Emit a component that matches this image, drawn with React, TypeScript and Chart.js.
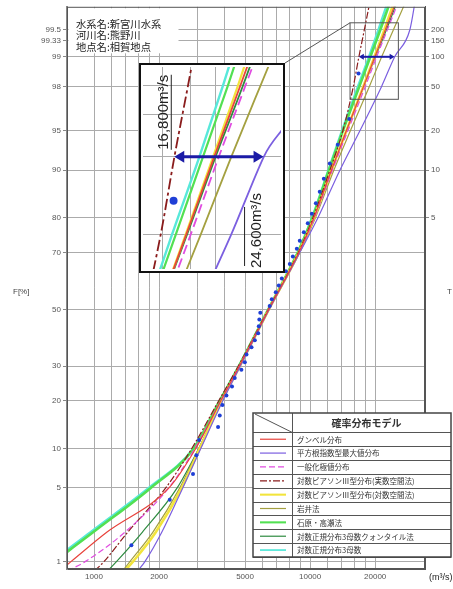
import React, { useEffect, useRef } from "react";
import { Chart, registerables } from "chart.js";

Chart.register(...registerables);

// ---------------- data ----------------
const F_LEVELS = [0.8, 1, 2, 5, 10, 20, 30, 50, 70, 80, 90, 95, 98, 99, 99.5, 99.8];

const Q_GUMBEL = [694, 780, 1145, 2222, 2957, 3861, 4700, 6439, 8866, 10400, 12540, 14710, 17670, 19930, 22290, 25470];
const Q_SQRTEXP = [1595, 1717, 2058, 2574, 3119, 3944, 4752, 6474, 8960, 10855, 13730, 16990, 21410, 24620, 28940, 30850];
const Q_GEV = [754, 906, 1387, 2217, 2926, 3861, 4700, 6439, 8913, 10460, 12670, 14950, 18010, 20320, 22780, 26160];
const Q_LP3_REAL = [1007, 1109, 1432, 2147, 2834, 3779, 4651, 6405, 8819, 10290, 12340, 14170, 15850, 16810, 17820, 19100];
const Q_LP3_LOG = [1387, 1511, 1930, 2547, 3086, 3902, 4726, 6439, 8866, 10400, 12540, 14710, 17630, 19830, 22060, 24940];
const Q_IWAI = [1358, 1463, 1870, 2494, 3053, 3902, 4726, 6474, 8960, 10570, 12870, 15350, 18800, 21430, 24290, 28330];
const Q_ISHIHARA = [600, 660, 990, 1830, 2895, 3819, 4676, 6405, 8772, 10240, 12210, 14170, 16900, 18990, 21130, 23890];
const Q_LN3_QUANT = [1157, 1267, 1672, 2425, 3053, 3902, 4726, 6439, 8866, 10400, 12540, 14710, 17730, 20040, 22540, 25740];
const Q_LN3 = [580, 640, 960, 1790, 2880, 3819, 4676, 6405, 8772, 10180, 12140, 14020, 16630, 18700, 20690, 23270];

const SERIES_NAMES = [
  "グンベル分布",
  "平方根指数型最大値分布",
  "一般化極値分布",
  "対数ピアソンⅢ型分布(実数空間法)",
  "対数ピアソンⅢ型分布(対数空間法)",
  "岩井法",
  "石原・高瀬法",
  "対数正規分布3母数クォンタイル法",
  "対数正規分布3母数",
];

const POINT_F = [1.49, 3.98, 6.47, 8.96, 11.44, 13.93, 16.42, 18.91, 21.39, 23.88, 26.37, 28.86, 31.34, 33.83, 36.32, 38.81, 41.29, 43.78, 46.27, 48.76, 51.24, 53.73, 56.22, 58.71, 61.19, 63.68, 66.17, 68.66, 71.14, 73.63, 76.12, 78.61, 81.09, 83.58, 86.07, 88.56, 91.04, 93.53, 96.02, 98.51];
const POINT_Q = [1489, 2241, 2871, 2976, 3063, 3750, 3818, 3929, 4100, 4350, 4479, 4808, 4987, 5077, 5355, 5547, 5748, 5787, 5820, 5880, 6500, 6647, 6934, 7161, 7396, 7718, 8053, 8318, 8677, 8955, 9349, 9753, 10180, 10630, 11080, 11570, 12330, 13420, 15170, 16750];

const X_GRID = [1000, 1200, 1400, 1600, 1800, 2000, 3000, 4000, 5000, 6000, 7000, 8000, 9000, 10000, 12000, 14000, 16000, 18000, 20000];
const X_LABELS = [1000, 2000, 5000, 10000, 20000];
const X_RANGE = [750, 34000];
const F_RANGE = [0.838, 99.734];
const F_TICKS = [1, 5, 10, 20, 30, 50, 70, 80, 90, 95, 98, 99, 99.33, 99.5];
const F_TICK_LABELS = ["1", "5", "10", "20", "30", "50", "70", "80", "90", "95", "98", "99", "99.33", "99.5"];
const T_TICKS = [5, 10, 20, 50, 100, 150, 200];

const ARROW_Q = [16800, 24600];
const ARROW_F = 99;
const ARROW_LABELS = ["16,800m³/s", "24,600m³/s"];
const BOX_Q = [15300, 25600];
const BOX_F = [97.35, 99.585];
const INSET_Q = [14700, 26500];
const INSET_GRID_Q = [16000, 18000, 20000];
const INSET_GRID_F = [98, 99, 99.33, 99.5];

const INFO_LINES = ["水系名:新宮川水系", "河川名:熊野川", "地点名:相賀地点"];
const LEGEND_TITLE = "確率分布モデル";

// ---------------- styles ----------------
const STYLES = [
  { color: "#e8433c", width: 1.2, inset: 1.8, dash: [] as number[] },
  { color: "#7b5fe0", width: 1.2, inset: 1.8, dash: [] },
  { color: "#e04ce0", width: 1.2, inset: 1.8, dash: [6, 3] },
  { color: "#8a1c1c", width: 1.2, inset: 1.8, dash: [7, 2, 2, 2] },
  { color: "#f2e43c", width: 2.6, inset: 2.2, dash: [] },
  { color: "#a4a040", width: 1.2, inset: 1.8, dash: [] },
  { color: "#52e052", width: 2.6, inset: 2.2, dash: [] },
  { color: "#2e8b40", width: 1.2, inset: 1.8, dash: [] },
  { color: "#58e8da", width: 2.2, inset: 2.4, dash: [] },
];
const SERIES_Q = [Q_GUMBEL, Q_SQRTEXP, Q_GEV, Q_LP3_REAL, Q_LP3_LOG, Q_IWAI, Q_ISHIHARA, Q_LN3_QUANT, Q_LN3];
const INSET = { left: 139, top: 63, width: 146, height: 210 };
const FONT_LAT = '"Liberation Sans", Arial, sans-serif';
const FONT_JP = '"Noto Sans CJK JP", sans-serif';
const GRID = "#ababab";

// probit (inverse standard normal) – the probability-paper axis transform
function probit(p: number): number {
  const a = [-3.969683028665376e1, 2.209460984245205e2, -2.759285104469687e2, 1.38357751867269e2, -3.066479806614716e1, 2.506628277459239];
  const b = [-5.447609879822406e1, 1.615858368580409e2, -1.556989798598866e2, 6.680131188771972e1, -1.328068155288572e1];
  const c = [-7.784894002430293e-3, -3.223964580411365e-1, -2.400758277161838, -2.549732539343734, 4.374664141464968, 2.938163982698783];
  const d = [7.784695709041462e-3, 3.224671290700398e-1, 2.445134137142996, 3.754408661907416];
  const pl = 0.02425;
  if (p < pl) {
    const q = Math.sqrt(-2 * Math.log(p));
    return (((((c[0] * q + c[1]) * q + c[2]) * q + c[3]) * q + c[4]) * q + c[5]) / ((((d[0] * q + d[1]) * q + d[2]) * q + d[3]) * q + 1);
  }
  if (p <= 1 - pl) {
    const q = p - 0.5;
    const r = q * q;
    return ((((((a[0] * r + a[1]) * r + a[2]) * r + a[3]) * r + a[4]) * r + a[5]) * q) / (((((b[0] * r + b[1]) * r + b[2]) * r + b[3]) * r + b[4]) * r + 1);
  }
  const q = Math.sqrt(-2 * Math.log(1 - p));
  return -(((((c[0] * q + c[1]) * q + c[2]) * q + c[3]) * q + c[4]) * q + c[5]) / ((((d[0] * q + d[1]) * q + d[2]) * q + d[3]) * q + 1);
}
const zf = (f: number) => probit(f / 100);

function buildDatasets(isInset: boolean, pr: number) {
  const k = isInset ? 1.6 : 1;
  const lines = SERIES_Q.map((qs, si) => ({
    type: "line" as const,
    label: SERIES_NAMES[si],
    data: F_LEVELS.map((f, i) => ({ x: qs[i], y: zf(f) })),
    borderColor: STYLES[si].color,
    borderWidth: isInset ? STYLES[si].inset : STYLES[si].width,
    borderDash: STYLES[si].dash.map((v) => v * k),
    pointRadius: 0,
    cubicInterpolationMode: "monotone" as const,
    fill: false,
    order: 2,
  }));
  const pts = {
    type: "line" as const,
    label: "実績",
    data: POINT_F.map((f, i) => ({ x: POINT_Q[i], y: zf(f) })),
    showLine: false,
    pointRadius: pr,
    pointBackgroundColor: "#1f3fd6",
    pointBorderWidth: 0,
    borderColor: "#1f3fd6",
    order: 1,
  };
  return [...lines, pts];
}

function drawArrow(ctx: CanvasRenderingContext2D, x1: number, x2: number, y: number, lw: number, hl: number, hw: number, color: string) {
  ctx.save();
  ctx.strokeStyle = color;
  ctx.fillStyle = color;
  ctx.lineWidth = lw;
  ctx.beginPath();
  ctx.moveTo(x1 + hl * 0.8, y);
  ctx.lineTo(x2 - hl * 0.8, y);
  ctx.stroke();
  ctx.beginPath();
  ctx.moveTo(x1, y);
  ctx.lineTo(x1 + hl, y - hw);
  ctx.lineTo(x1 + hl, y + hw);
  ctx.closePath();
  ctx.fill();
  ctx.beginPath();
  ctx.moveTo(x2, y);
  ctx.lineTo(x2 - hl, y - hw);
  ctx.lineTo(x2 - hl, y + hw);
  ctx.closePath();
  ctx.fill();
  ctx.restore();
}

const mainDecor = {
  id: "mainDecor",
  afterDraw(chart: any) {
    const { ctx, chartArea: a, scales } = chart;
    const xs = scales.x;
    const ys = scales.y;
    ctx.save();
    // frame
    ctx.strokeStyle = "#555";
    ctx.lineWidth = 1;
    ctx.strokeRect(a.left + 0.5, a.top + 0.5, a.right - a.left - 1, a.bottom - a.top - 1);

    // info box
    ctx.fillStyle = "#fff";
    ctx.fillRect(a.left + 1.5, a.top + 1.5, 110, 45);
    ctx.fillStyle = "#222";
    ctx.font = `10.3px ${FONT_JP}`;
    ctx.textBaseline = "middle";
    ctx.textAlign = "left";
    INFO_LINES.forEach((t, i) => ctx.fillText(t, a.left + 9, a.top + 17 + i * 11.5));

    // zoom box
    const bx1 = xs.getPixelForValue(BOX_Q[0]);
    const bx2 = xs.getPixelForValue(BOX_Q[1]);
    const by1 = ys.getPixelForValue(zf(BOX_F[1]));
    const by2 = ys.getPixelForValue(zf(BOX_F[0]));
    ctx.strokeStyle = "#555";
    ctx.lineWidth = 1;
    ctx.strokeRect(bx1, by1, bx2 - bx1, by2 - by1);
    ctx.beginPath();
    ctx.moveTo(INSET.left + INSET.width, INSET.top);
    ctx.lineTo(bx1, by1);
    ctx.stroke();

    // arrow in main plot
    const ay = ys.getPixelForValue(zf(ARROW_F));
    drawArrow(ctx, xs.getPixelForValue(ARROW_Q[0]), xs.getPixelForValue(ARROW_Q[1]), ay, 2, 5, 3, "#1b1ba6");

    // legend table
    const L = { x1: 253, x2: 451, y1: 413, y2: 557, head: 19.3, col: 292 };
    ctx.fillStyle = "#fff";
    ctx.fillRect(L.x1, L.y1, L.x2 - L.x1, L.y2 - L.y1);
    const rowH = (L.y2 - L.y1 - L.head) / SERIES_NAMES.length;
    ctx.strokeStyle = "#555";
    ctx.lineWidth = 1;
    for (let i = 0; i <= SERIES_NAMES.length; i++) {
      const y = Math.round(L.y1 + L.head + i * rowH) + 0.5;
      ctx.beginPath();
      ctx.moveTo(L.x1, y);
      ctx.lineTo(L.x2, y);
      ctx.stroke();
    }
    ctx.beginPath();
    ctx.moveTo(L.col + 0.5, L.y1);
    ctx.lineTo(L.col + 0.5, L.y2);
    ctx.stroke();
    ctx.beginPath();
    ctx.moveTo(L.x1 + 2, L.y1 + 1);
    ctx.lineTo(L.col, L.y1 + L.head);
    ctx.stroke();
    ctx.lineWidth = 1.5;
    ctx.strokeStyle = "#444";
    ctx.strokeRect(L.x1, L.y1, L.x2 - L.x1, L.y2 - L.y1);
    ctx.fillStyle = "#333";
    ctx.font = `bold 10px ${FONT_JP}`;
    ctx.textAlign = "center";
    ctx.fillText(LEGEND_TITLE, (L.col + L.x2) / 2 - 5, L.y1 + L.head / 2 + 0.5);
    ctx.textAlign = "left";
    ctx.font = `7.5px ${FONT_JP}`;
    SERIES_NAMES.forEach((n, i) => {
      const cy = L.y1 + L.head + (i + 0.5) * rowH;
      const st = STYLES[i];
      ctx.save();
      ctx.strokeStyle = st.color;
      ctx.lineWidth = Math.max(1.2, st.width * 0.8);
      ctx.setLineDash(st.dash);
      ctx.beginPath();
      ctx.moveTo(L.x1 + 7, cy);
      ctx.lineTo(L.col - 6, cy);
      ctx.stroke();
      ctx.restore();
      ctx.fillStyle = "#333";
      ctx.fillText(n, L.col + 5, cy + 0.5);
    });

    // axis titles
    ctx.fillStyle = "#444";
    ctx.font = `8px ${FONT_LAT}`;
    ctx.textAlign = "left";
    ctx.fillText("F[%]", 13, 292);
    ctx.fillText("T", 447, 292);
    ctx.fillStyle = "#222";
    ctx.font = `9px ${FONT_LAT}`;
    ctx.fillText("(m³/s)", 429, 578);
    ctx.restore();
  },
};

const insetDecor = {
  id: "insetDecor",
  afterDraw(chart: any) {
    const { ctx, scales, width, height } = chart;
    const xs = scales.x;
    const ys = scales.y;
    const ay = ys.getPixelForValue(zf(ARROW_F));
    const x1 = xs.getPixelForValue(ARROW_Q[0]);
    const x2 = xs.getPixelForValue(ARROW_Q[1]);
    drawArrow(ctx, x1, x2, ay, 3, 10, 6, "#1b1ba6");
    ctx.save();
    ctx.fillStyle = "#222";
    ctx.strokeStyle = "#222";
    ctx.lineWidth = 1;
    ctx.font = `15px ${FONT_LAT}`;
    ctx.textAlign = "left";
    ctx.textBaseline = "alphabetic";
    // low label
    ctx.save();
    ctx.translate(x1 - 6, ay - 7);
    ctx.rotate(-Math.PI / 2);
    ctx.fillText(ARROW_LABELS[0], 0, 0);
    const w0 = ctx.measureText(ARROW_LABELS[0]).width;
    ctx.beginPath();
    ctx.moveTo(0, 3);
    ctx.lineTo(w0, 3);
    ctx.stroke();
    ctx.restore();
    // high label
    ctx.save();
    ctx.translate(x2 - 3, height - 5);
    ctx.rotate(-Math.PI / 2);
    ctx.fillText(ARROW_LABELS[1], 0, 0);
    const w1 = ctx.measureText(ARROW_LABELS[1]).width;
    ctx.beginPath();
    ctx.moveTo(2, -16);
    ctx.lineTo(w1 - 14, -16);
    ctx.stroke();
    ctx.restore();
    // border
    ctx.strokeStyle = "#111";
    ctx.lineWidth = 2;
    ctx.strokeRect(1, 1, width - 2, height - 2);
    ctx.restore();
  },
};

export default function App() {
  const mainRef = useRef<HTMLCanvasElement>(null);
  const insetRef = useRef<HTMLCanvasElement>(null);

  useEffect(() => {
    const tickFont = { size: 8, family: FONT_LAT };
    const main = new Chart(mainRef.current as HTMLCanvasElement, {
      type: "line",
      data: { datasets: buildDatasets(false, 2) as any },
      options: {
        animation: false,
        responsive: false,
        devicePixelRatio: 1,
        layout: { padding: { top: 6, left: 0, right: 0, bottom: 0 } },
        plugins: { legend: { display: false }, tooltip: { enabled: false } },
        scales: {
          x: {
            type: "logarithmic",
            min: X_RANGE[0],
            max: X_RANGE[1],
            position: "bottom",
            afterBuildTicks: (s: any) => {
              s.ticks = X_GRID.map((v) => ({ value: v }));
            },
            afterFit: (s: any) => {
              s.height = 20;
            },
            ticks: {
              autoSkip: false,
              maxRotation: 0,
              padding: 3,
              font: tickFont,
              color: "#555",
              callback: (v: any) => (X_LABELS.includes(Number(v)) ? String(v) : ""),
            },
            grid: { color: GRID, lineWidth: 1, drawTicks: false },
            border: { display: true, color: "#555", width: 1 },
          },
          y: {
            type: "linear",
            min: zf(F_RANGE[0]),
            max: zf(F_RANGE[1]),
            position: "left",
            afterBuildTicks: (s: any) => {
              s.ticks = F_TICKS.map((f) => ({ value: zf(f) }));
            },
            afterFit: (s: any) => {
              s.width = 67;
            },
            ticks: {
              autoSkip: false,
              padding: 2,
              font: tickFont,
              color: "#555",
              callback: (_v: any, i: number) => F_TICK_LABELS[i],
            },
            grid: { color: GRID, lineWidth: 1, drawTicks: true, tickLength: 4, tickColor: "#888" },
            border: { display: true, color: "#888", width: 2 },
          },
          y2: {
            type: "linear",
            min: zf(F_RANGE[0]),
            max: zf(F_RANGE[1]),
            position: "right",
            afterBuildTicks: (s: any) => {
              s.ticks = T_TICKS.map((t) => ({ value: zf(100 * (1 - 1 / t)) }));
            },
            afterFit: (s: any) => {
              s.width = 28;
            },
            ticks: {
              autoSkip: false,
              padding: 2,
              font: tickFont,
              color: "#555",
              callback: (_v: any, i: number) => String(T_TICKS[i]),
            },
            grid: { drawOnChartArea: false, drawTicks: true, tickLength: 4, tickColor: "#888" },
            border: { display: true, color: "#555", width: 1 },
          },
        },
      },
      plugins: [mainDecor],
    } as any);

    const inset = new Chart(insetRef.current as HTMLCanvasElement, {
      type: "line",
      data: { datasets: buildDatasets(true, 4) as any },
      options: {
        animation: false,
        responsive: false,
        devicePixelRatio: 1,
        layout: { padding: 0 },
        plugins: { legend: { display: false }, tooltip: { enabled: false } },
        scales: {
          x: {
            type: "logarithmic",
            min: INSET_Q[0],
            max: INSET_Q[1],
            afterBuildTicks: (s: any) => {
              s.ticks = INSET_GRID_Q.map((v) => ({ value: v }));
            },
            afterFit: (s: any) => {
              s.height = 0;
            },
            ticks: { display: false },
            grid: { color: GRID, drawTicks: false },
            border: { display: false },
          },
          y: {
            type: "linear",
            min: zf(BOX_F[0]),
            max: zf(BOX_F[1]),
            afterBuildTicks: (s: any) => {
              s.ticks = INSET_GRID_F.map((f) => ({ value: zf(f) }));
            },
            afterFit: (s: any) => {
              s.width = 0;
            },
            ticks: { display: false },
            grid: { color: GRID, drawTicks: false },
            border: { display: false },
          },
        },
      },
      plugins: [insetDecor],
    } as any);

    return () => {
      main.destroy();
      inset.destroy();
    };
  }, []);

  return (
    <div style={{ position: "fixed", left: 0, top: 0, width: 453, height: 589, background: "#fff" }}>
      <canvas ref={mainRef} width={453} height={589} style={{ position: "absolute", left: 0, top: 0, width: 453, height: 589 }} />
      <canvas
        ref={insetRef}
        width={INSET.width}
        height={INSET.height}
        style={{ position: "absolute", left: INSET.left, top: INSET.top, width: INSET.width, height: INSET.height, background: "#fff" }}
      />
    </div>
  );
}
